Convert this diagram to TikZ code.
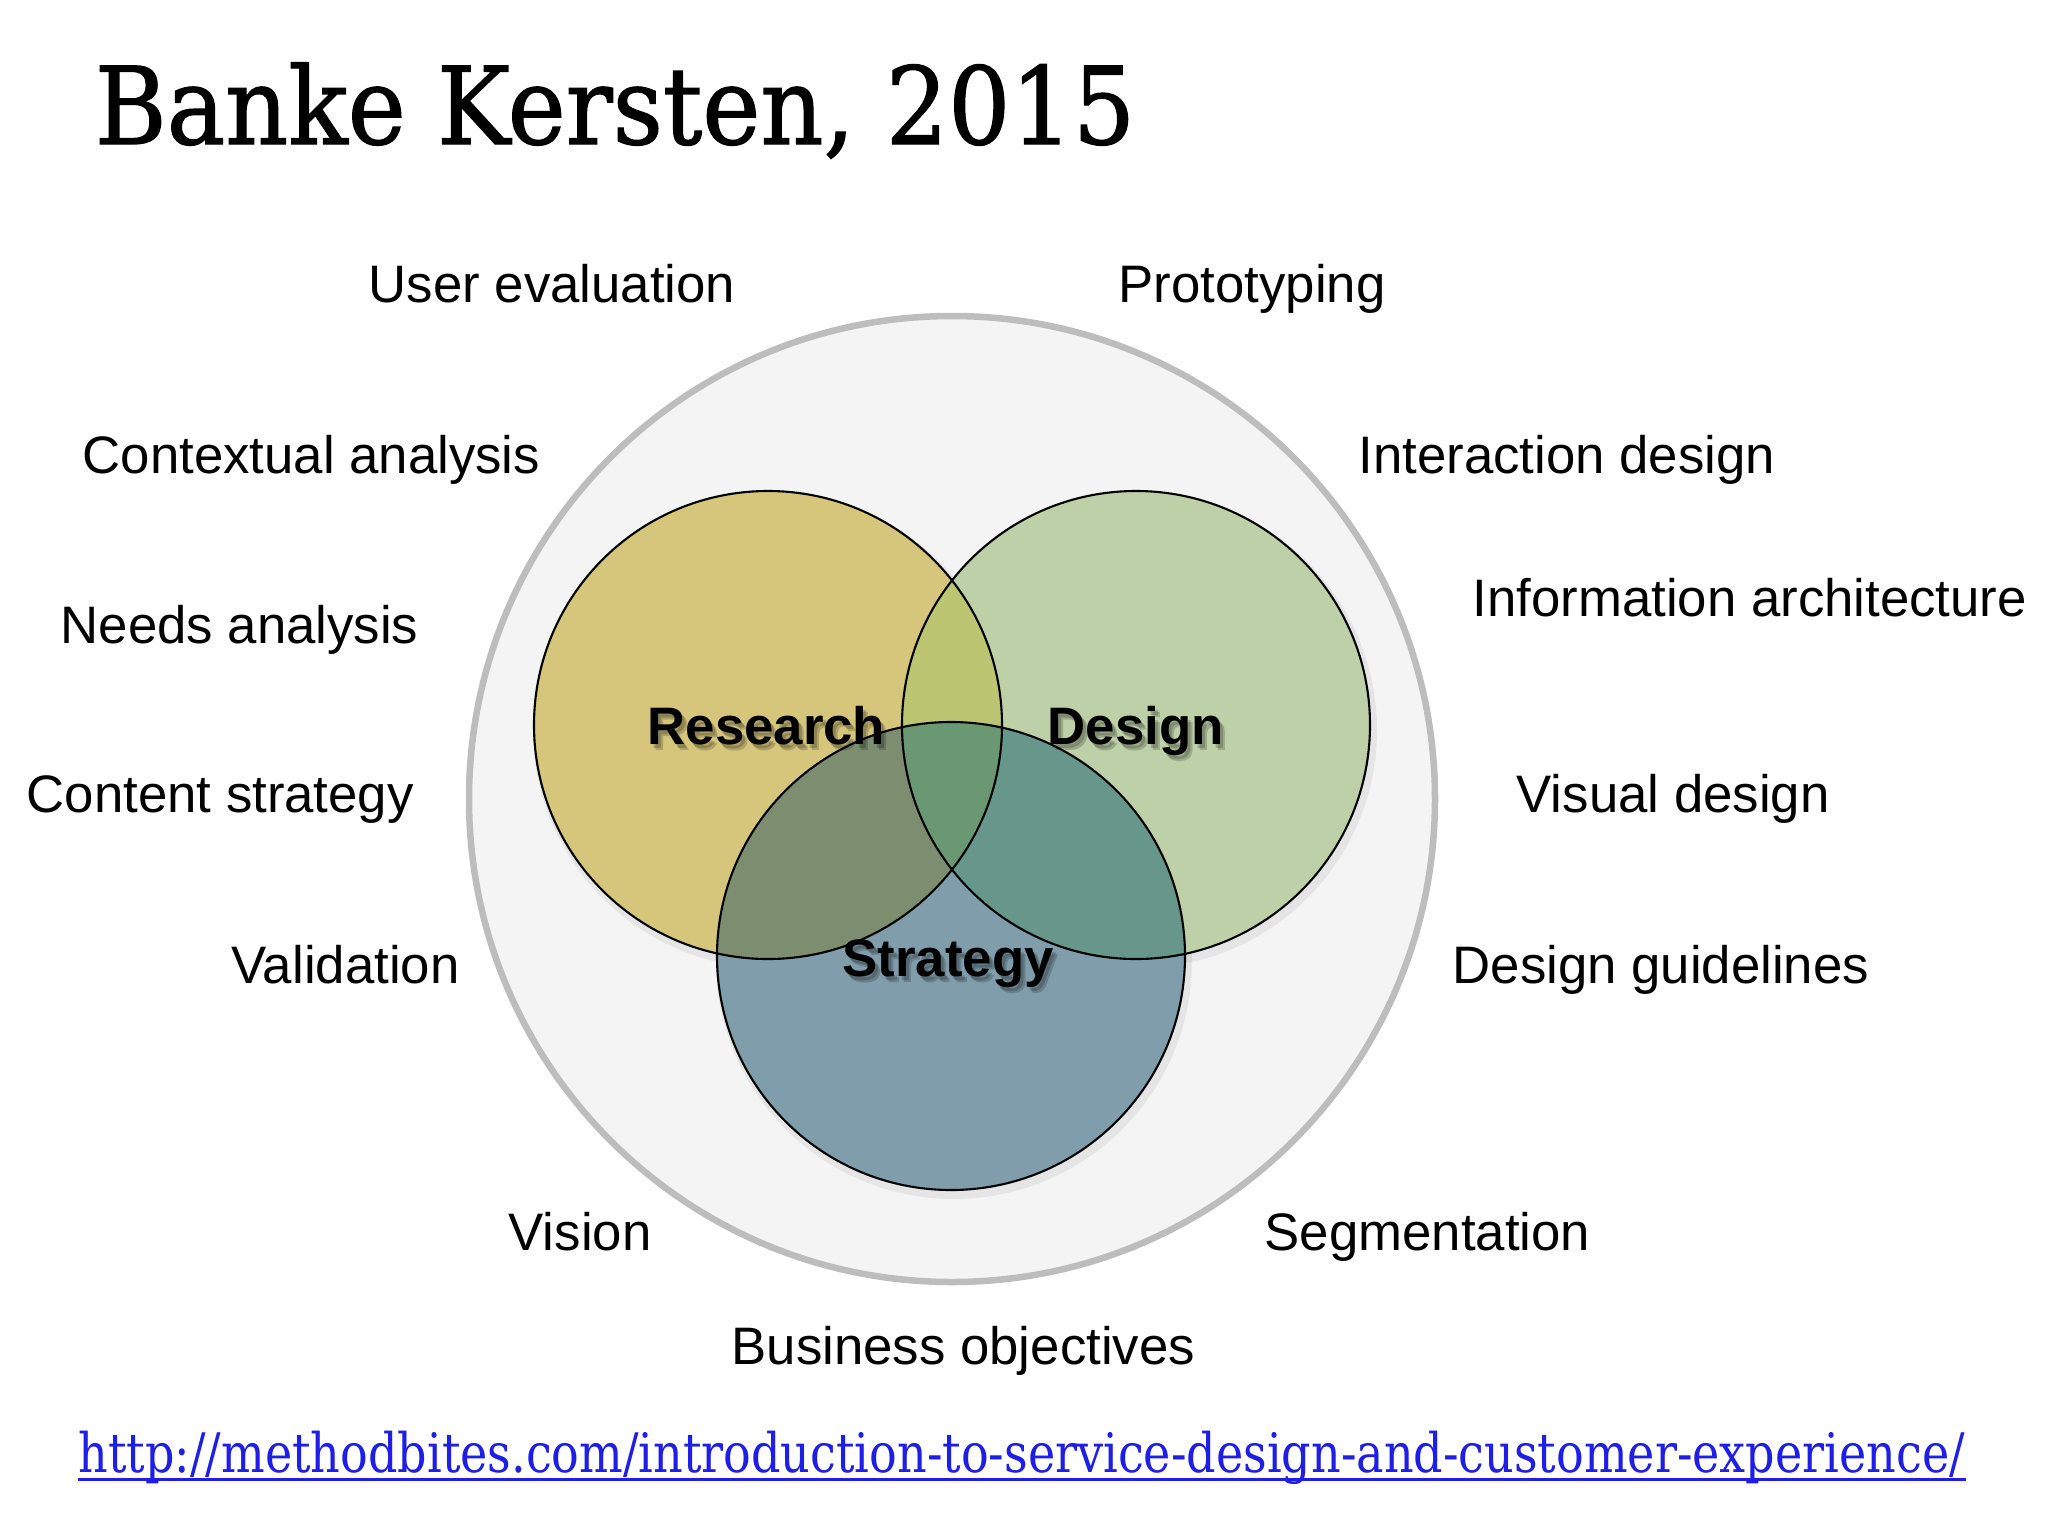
\documentclass[tikz,border=0pt]{standalone}
\usepackage{fontspec}
\setmainfont{Liberation Sans}
\newfontfamily\titlefont[FakeBold=1.2]{DejaVu Serif}
\newfontfamily\urlfont{DejaVu Serif}
\usepackage{graphicx}
\definecolor{outerfill}{HTML}{F4F4F4}
\definecolor{outerline}{HTML}{BDBDBD}
\definecolor{rcol}{HTML}{D5C67B}
\definecolor{dcol}{HTML}{BDD0A7}
\definecolor{scol}{HTML}{7F9DAA}
\definecolor{rdcol}{HTML}{BCC672}
\definecolor{rscol}{HTML}{7D8E70}
\definecolor{dscol}{HTML}{66978A}
\definecolor{rdscol}{HTML}{6A9873}
\definecolor{linkblue}{HTML}{1E1EE6}
\tikzset{
  lbl/.style={anchor=base west, inner sep=0pt, font=\fontsize{15}{18}\selectfont},
  bold lbl/.style={anchor=base west, inner sep=0pt, font=\fontsize{15}{18}\selectfont\bfseries},
  shadow lbl/.style={anchor=base west, inner sep=0pt, font=\fontsize{15}{18}\selectfont\bfseries, text=black, text opacity=0.18},
  ring/.style={draw=black, line width=0.6pt}
}
\begin{document}
\begin{tikzpicture}[x=0.01cm, y=-0.01cm]
\useasboundingbox (0,0) rectangle (2048,1536);
\fill[white] (0,0) rectangle (2048,1536);
% title
\node[anchor=base west, inner sep=0pt] (title) at (94,144)
  {\resizebox{10.4cm}{\height}{\titlefont\fontsize{30.5}{36}\selectfont Banke Kersten, 2015}};
% centres
\coordinate (O) at (952,799);
\coordinate (R) at (768,725);
\coordinate (D) at (1136,725);
\coordinate (S) at (951,956);
% outer circle
\draw[outerline, line width=0.065cm, fill=outerfill] (O) circle[radius=483];
% soft shadows
\foreach \c in {R,D,S} {
  \fill[black, opacity=0.06] ([shift={(3,5)}]\c) circle[radius=238];
}
% single fills
\fill[rcol] (R) circle[radius=234];
\fill[dcol] (D) circle[radius=234];
\begin{scope}
  \clip (R) circle[radius=234];
  \fill[rdcol] (D) circle[radius=234];
\end{scope}
\fill[scol] (S) circle[radius=234];
\begin{scope}
  \clip (S) circle[radius=234];
  \fill[rscol] (R) circle[radius=234];
  \fill[dscol] (D) circle[radius=234];
  \clip (R) circle[radius=234];
  \fill[rdscol] (D) circle[radius=234];
\end{scope}
% outlines
\draw[ring] (R) circle[radius=234];
\draw[ring] (D) circle[radius=234];
\draw[ring] (S) circle[radius=234];
% bold labels with soft shadows
\foreach \dx/\dy in {3/4,5/6} {
  \node[shadow lbl] at (647+\dx,744+\dy) {Research};
  \node[shadow lbl] at (1047+\dx,744+\dy) {Design};
  \node[shadow lbl] at (842+\dx,976+\dy) {Strategy};
}
\node[bold lbl] (research) at (647,744) {Research};
\node[bold lbl] (design) at (1047,744) {Design};
\node[bold lbl] (strategy) at (842,976) {Strategy};
% outer labels
\node[lbl] (ue) at (368,302) {User evaluation};
\node[lbl] (proto) at (1118,302) {Prototyping};
\node[lbl] (ca) at (82,473) {Contextual analysis};
\node[lbl] (id) at (1358,473) {Interaction design};
\node[lbl] (na) at (60,643) {Needs analysis};
\node[lbl] (ia) at (1472,616) {Information architecture};
\node[lbl] (cs) at (26,812) {Content strategy};
\node[lbl] (vd) at (1516,812) {Visual design};
\node[lbl] (val) at (231,983) {Validation};
\node[lbl] (dg) at (1452,983) {Design guidelines};
\node[lbl] (vis) at (508,1250) {Vision};
\node[lbl] (seg) at (1264,1250) {Segmentation};
\node[lbl] (bo) at (731,1364) {Business objectives};
% url
\node[anchor=base west, inner sep=0pt, text=linkblue] (url) at (78,1472)
  {\resizebox{18.85cm}{\height}{\urlfont\fontsize{15.5}{18}\selectfont http://methodbites.com/introduction-to-service-design-and-customer-experience/}};
\draw[linkblue, line width=0.03cm] ([yshift=-0.07cm]url.base west) -- ([yshift=-0.07cm]url.base east);
\end{tikzpicture}
\end{document}
